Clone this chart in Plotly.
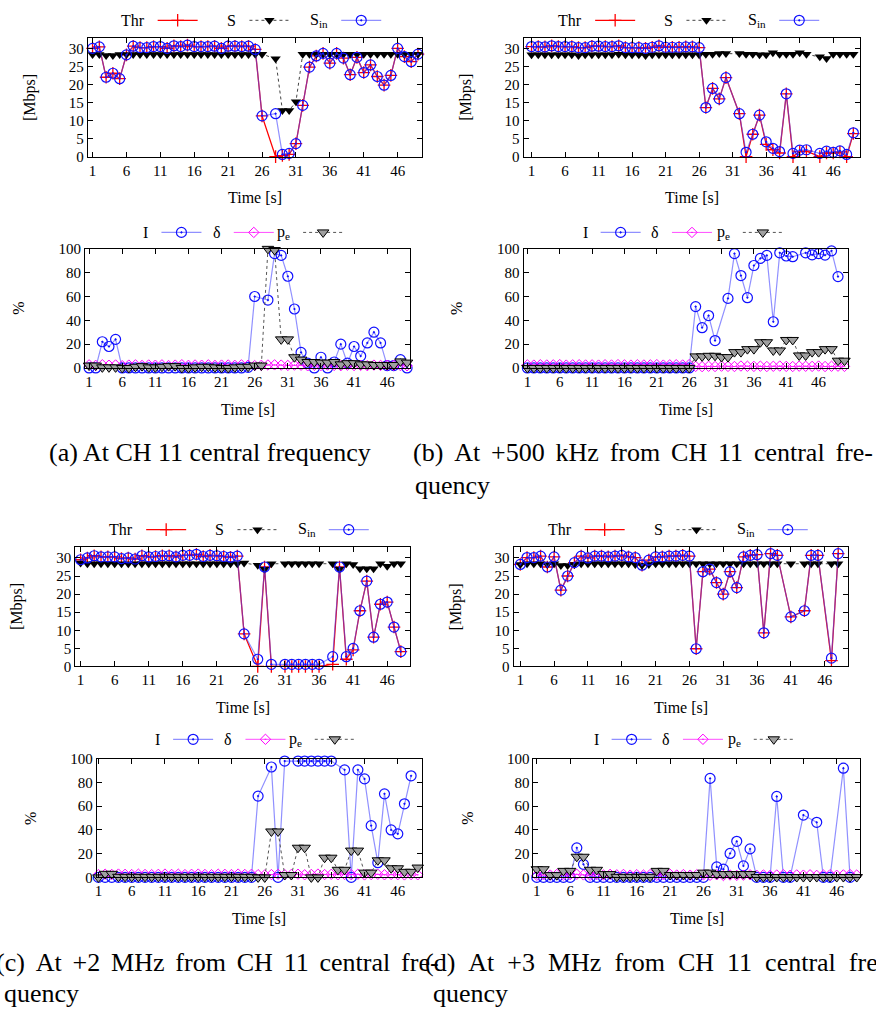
import plotly.graph_objects as go

W, H = 876, 1017
FONT = "Liberation Serif"

T = list(range(1, 51))
X_TICKS = [1, 6, 11, 16, 21, 26, 31, 36, 41, 46]
Y_TICKS_THR = [0, 5, 10, 15, 20, 25, 30]
Y_TICKS_PCT = [0, 20, 40, 60, 80, 100]

# ---------------- (a) CH 11 central frequency ----------------
a_thr = [30.0, 30.4, 22.0, 23.1, 21.6, 28.2, 30.6, 30.2, 30.2, 30.5,
         30.5, 30.0, 30.7, 30.5, 30.9, 30.5, 30.5, 30.5, 30.6, 30.0,
         30.6, 30.6, 30.5, 30.6, 29.7, 11.3, None, 0.0, 0.3, 0.6,
         3.6, 14.2, 24.8, 27.9, 28.6, 25.9, 28.6, 27.3, 22.7, 27.5,
         23.3, 25.4, 22.2, 19.8, 22.5, 30.0, 27.7, 26.3, 28.4, None]
a_sin = [30.0, 30.4, 22.0, 23.1, 21.6, 28.2, 30.6, 30.2, 30.2, 30.5,
         30.5, 30.0, 30.7, 30.5, 30.9, 30.5, 30.5, 30.5, 30.6, 30.0,
         30.6, 30.6, 30.5, 30.6, 29.7, 11.3, None, 11.9, 0.6, 0.9,
         3.6, 14.2, 24.8, 27.9, 28.6, 25.9, 28.6, 27.3, 22.7, 27.5,
         23.3, 25.4, 22.2, 19.8, 22.5, 30.0, 27.7, 26.3, 28.4, None]
a_s = [28.3, 28.3, 28.0, 28.0, 28.3, 28.3, 28.3, 28.3, 28.3, 28.3,
       28.3, 28.3, 28.3, 28.3, 28.3, 28.3, 28.3, 28.3, 28.3, 28.3,
       28.3, 28.3, 28.3, 28.3, 28.4, 28.4, None, 27.1, 12.8, 12.8,
       15.2, 28.4, 28.4, 28.4, 28.4, 28.4, 28.4, 28.4, 28.4, 28.4,
       28.4, 28.4, 28.4, 28.4, 28.4, 28.4, 28.4, 28.4, 28.4, None]
a_i = [0, 0, 22, 18, 24, 0, 0, 0, 0, 0,
       0, 0, 0, 0, 0, 0, 0, 0, 0, 0,
       0, 0, 0, 0, 0.5, 60, None, 57, 96, 94.5,
       77, 49.5, 13, 4, 0, 9, 0, 5, 20, 4,
       18, 10, 21, 30, 21, 2, 2, 7, 0, None]
a_d = [2.6, 2.2, 2.7, 2.3, 2.5, 1.9, 2.4, 2.6, 2.1, 2.5,
       2.3, 2.6, 2.0, 2.4, 2.7, 2.2, 2.5, 2.3, 2.6, 2.1,
       2.4, 2.5, 2.2, 2.6, 2.3, 2.0, 2.2, 2.5, 2.6, 2.4,
       2.1, 2.4, 2.3, 1.8, 2.2, 2.0, 2.4, 2.1, 1.9, 2.3,
       2.0, 2.2, 1.9, 2.4, 2.1, 2.3, 2.2, 2.0, 1.8, None]
a_pe = [2, 2, 0.5, 0.5, 0.5, 0, 0, 1, 1.5, 0.5,
        0.5, 1, 1.5, 1.5, 0, 0, 0.5, 1, 1, 0.5,
        0, 0, 0.5, 1, 1, 2, 2, 100, 99, 24,
        24, 9, 7, 5, 5, 4.5, 4.5, 5, 3, 4,
        4, 3, 3, 2.5, 2.5, 2.5, 2.5, 5.5, 4.5, None]

# ---------------- (b) +500 kHz ----------------
b_thr = [30.5, 30.5, 30.4, 30.7, 30.5, 30.5, 30.5, 30.2, 30.2, 30.6,
         30.6, 30.5, 30.5, 30.7, 30.2, 30.2, 30.2, 30.0, 30.3, 30.7,
         30.3, 30.3, 30.3, 30.4, 30.4, 30.2, 13.6, 18.9, 16.0, 21.9,
         None, 11.9, 0.0, 6.2, 11.5, 3.4, 1.9, 1.0, 17.4, 0.0,
         1.4, 1.5, None, 0.0, 1.0, 1.0, 1.3, 0.0, 6.4, None]
b_sin = [30.5, 30.5, 30.4, 30.7, 30.5, 30.5, 30.5, 30.2, 30.2, 30.6,
         30.6, 30.5, 30.5, 30.7, 30.2, 30.2, 30.2, 30.0, 30.3, 30.7,
         30.3, 30.3, 30.3, 30.4, 30.4, 30.2, 13.6, 18.9, 16.0, 21.9,
         None, 11.9, 1.2, 6.2, 11.5, 4.1, 2.3, 1.4, 17.4, 0.9,
         1.8, 1.9, None, 0.9, 1.5, 1.2, 1.6, 0.6, 6.6, None]
b_s = [28.2, 28.2, 28.2, 28.2, 28.2, 28.2, 28.2, 28.0, 28.2, 28.2,
       28.2, 28.2, 28.2, 28.4, 28.2, 28.2, 28.2, 28.0, 28.2, 28.2,
       28.2, 28.2, 28.2, 28.2, 28.2, 28.2, 28.4, 28.4, 28.6, 28.6,
       None, 28.6, 28.4, 28.4, 28.2, 28.2, 28.8, 28.4, 28.4, 28.4,
       28.8, 28.4, None, 27.7, 27.2, 28.4, 28.4, 28.4, 28.4, None]
b_i = [0, 0, 0, 0, 0, 0, 0, 0, 0, 0,
       0, 0, 0, 0, 0, 0, 0, 0, 0, 0,
       0, 0, 0, 0, 0, 0, 51.5, 33.8, 44, 23,
       None, 58.4, 96, 77.6, 59, 86, 92, 94.5, 38.8, 96.7,
       94, 93.4, None, 96.7, 95, 96, 94.7, 98.3, 76.7, None]
b_d = [2.6, 2.4, 2.7, 2.5, 2.6, 2.8, 2.4, 2.6, 2.7, 2.5,
       2.6, 2.4, 2.7, 2.5, 2.8, 2.6, 2.4, 2.7, 2.5, 2.6,
       2.8, 2.4, 2.6, 2.7, 2.5, 2.8, 1.3, 1.1, 1.4, 1.2,
       1.5, 1.3, 1.2, 1.6, 1.4, 1.3, 1.5, 1.2, 1.4, 1.6,
       1.3, 1.2, 1.5, 1.4, 1.3, 1.6, 1.2, 1.4, 1.5, 1.3]
b_pe = [0, 0, 0, 0, 0, 0, 0, 0, 0, 0,
        0, 0, 0, 0, 0, 0, 0, 0, 0, 0,
        0, 0, 0, 0, 0, 0, 9.7, 9.7, 10.2, 10.2,
        9.1, 9.1, 13.3, 13.3, 15.8, 15.8, 21.6, 21.6, 14.7, 14.7,
        23.5, 23.5, 10.5, 10.5, 13.3, 13.3, 15.8, 15.8, 6.1, 6.1]

# ---------------- (c) +2 MHz ----------------
c_thr = [29.5, 30.0, 30.6, 30.3, 30.3, 30.3, 29.8, 30.0, 29.7, 30.6,
         30.3, 30.4, 30.6, 30.6, 30.3, 30.7, 30.7, 31.0, 30.4, 30.7,
         30.6, 30.4, 30.2, 30.5, 9.0, None, 0.0, 27.5, 0.0, None,
         0.0, 0.0, 0.0, 0.0, 0.0, 0.0, None, 0.6, 27.5, 2.0,
         4.6, 15.4, 23.6, 8.1, 17.2, 17.8, 10.9, 4.1, None, None]
c_sin = [29.5, 30.0, 30.6, 30.3, 30.3, 30.3, 29.8, 30.0, 29.7, 30.6,
         30.3, 30.4, 30.6, 30.6, 30.3, 30.7, 30.7, 31.0, 30.4, 30.7,
         30.6, 30.4, 30.2, 30.5, 9.0, None, 2.0, 27.5, 0.6, None,
         0.6, 0.6, 0.6, 0.6, 0.6, 0.6, None, 2.7, 27.5, 2.7,
         5.0, 15.4, 23.6, 8.1, 17.2, 17.8, 10.9, 4.1, None, None]
c_s = [28.6, 28.4, 28.4, 28.4, 28.4, 28.4, 28.4, 28.4, 28.4, 28.4,
       28.4, 28.4, 28.4, 28.4, 28.4, 28.4, 28.4, 28.4, 28.4, 28.4,
       28.4, 28.4, 28.4, 28.4, 28.6, None, 28.0, 26.9, 28.4, None,
       28.4, 28.4, 28.4, 28.4, 28.4, 28.4, None, 28.4, 26.9, 28.4,
       28.2, 27.0, 27.0, 27.0, 28.4, 27.7, 28.4, 28.4, None, None]
c_i = [0, 0, 0, 0, 0, 0, 0, 0, 0, 0,
       0, 0, 0, 0, 0, 0, 0, 0, 0, 0,
       0, 0, 0, 0, 68.5, None, 93, 0, 98, None,
       98, 98, 98, 98, 98, 98, None, 90.6, 0, 90.6,
       83, 43.6, 12.4, 70.4, 40, 36.7, 62, 85.6, None, None]
c_d = [2.4, 2.7, 2.5, 2.8, 2.6, 2.4, 2.7, 2.5, 2.3, 2.6,
       2.8, 2.5, 2.7, 2.4, 2.6, 2.8, 2.5, 2.3, 2.7, 2.6,
       2.4, 2.8, 2.5, 2.6, 2.3, 2.1, 2.4, 2.6, 2.3, 2.5,
       2.7, 2.2, 2.5, 2.8, 2.4, 2.6, 2.2, 2.5, 2.3, 2.7,
       2.1, 2.4, 2.6, 2.2, 2.5, 2.3, 2.1, 2.4, 2.2, None]
c_pe = [0, 3, 3, 0.5, 0.5, 0.5, 0.5, 0.5, 0.5, 0.5,
        0.5, 0.5, 0.5, 0.5, 0.5, 0.5, 0.5, 0.5, 0.5, 0.5,
        0.5, 0.5, 0.5, 0.5, 0, 0, 38.7, 38.7, 2, 2,
        25, 25, 0, 0, 16.6, 16.6, 6.4, 6.4, 22.6, 22.6,
        4, 4, 14.4, 14.4, 7.7, 7.7, 4.7, 4.7, 8.3, None]

# ---------------- (d) +3 MHz ----------------
d_thr = [28.2, 30.1, 30.1, 30.5, 27.5, 30.3, 21.1, 25.0, 28.7, 30.5,
         30.0, 30.5, 30.5, 30.3, 30.5, 30.7, 30.3, 30.1, 28.0, 29.4,
         30.3, 30.3, 30.5, 30.5, 30.7, 30.5, 4.9, 26.2, 26.9, 23.2,
         20.0, 26.2, 21.8, 30.3, 30.7, 30.9, 9.3, 31.2, 30.7, None,
         13.7, None, 15.4, 30.7, 30.7, None, 1.6, 31.2, None, None]
d_sin = [28.2, 30.1, 30.1, 30.5, 27.5, 30.3, 21.1, 25.0, 28.7, 30.5,
         30.0, 30.5, 30.5, 30.3, 30.5, 30.7, 30.3, 30.1, 28.0, 29.4,
         30.3, 30.3, 30.5, 30.5, 30.7, 30.5, 4.9, 26.2, 26.9, 23.2,
         20.0, 26.2, 21.8, 30.3, 30.7, 30.9, 9.3, 31.2, 30.7, None,
         13.7, None, 15.4, 30.7, 30.7, None, 2.3, 31.2, None, None]
d_s = [28.2, 28.4, 28.4, 28.4, 28.2, 28.4, 27.9, 27.9, 28.2, 28.4,
       28.4, 28.4, 28.4, 28.4, 28.4, 28.4, 28.4, 28.2, 28.0, 28.2,
       28.4, 28.4, 28.4, 28.4, 28.4, 28.4, 28.4, 28.4, 28.4, 28.4,
       28.4, 28.4, 28.4, 28.4, 28.4, 28.4, 28.4, 28.4, 28.4, None,
       28.4, None, 28.4, 28.4, 28.4, None, 28.4, 28.4, None, None]
d_i = [0, 0, 0, 0, 0, 0, 24.9, 11.0, 0, 0,
       0, 0, 0, 0, 0, 0, 0, 0, 0, 0,
       0, 0, 0, 0, 0, 0, 83.4, 8.8, 6.9, 20.2,
       30.4, 9.7, 24.0, 0, 0, 0, 68.2, 0, 0, None,
       52.5, None, 46.4, 0, 0, None, 92.0, 0, None, None]
d_d = [1.8, 2.2, 2.0, 2.5, 1.9, 2.3, 2.6, 2.1, 1.8, 2.4,
       2.0, 2.6, 2.2, 2.5, 1.9, 2.3, 2.0, 2.4, 1.8, 2.2,
       2.6, 2.0, 2.4, 1.9, 2.3, 2.1, 1.8, 2.2, 1.6, 2.0,
       1.7, 1.9, 2.2, 1.8, 2.1, 1.7, 2.0, 2.3, 1.8, 2.1,
       1.9, 2.2, 1.7, 2.0, 2.3, 1.8, 2.1, 2.4, 2.0, None]
d_pe = [6.9, 6.9, 1.9, 1.9, 5.5, 5.5, 17.4, 17.4, 6.4, 6.4,
        2.8, 2.8, 0.5, 0.5, 0.5, 0.5, 0.5, 0.5, 5.5, 5.5,
        2.0, 2.0, 2.0, 2.0, 2.0, 4.0, 4.0, 2.8, 2.8, 2.8,
        2.8, 2.8, 2.8, 0.3, 0.3, 0.3, 0.3, 0.3, 0.3, 0.3,
        0.3, 0.3, 0.3, 0.3, 0.3, 0.3, 0.3, 0.3, 0.3, None]

NB = "\u00a0"
HS = "\u200a"
# caption words, gap string between words, left x (px), centre y (px)
CAPTIONS = [
    (["(a)", "At", "CH", "11", "central", "frequency"], " ", 45, 452),
    (["(b)", "At", "+500", "kHz", "from", "CH", "11", "central", "fre-"], NB + HS + HS, 410, 452),
    (["quency"], " ", 412, 485),
    (["(c)", "At", "+2", "MHz", "from", "CH", "11", "central", "fre-"], NB + HS + HS, -8, 970),
    (["quency"], " ", 0, 1001),
    (["(d)", "At", "+3", "MHz", "from", "CH", "11", "central", "fre-"], NB + NB, 422, 970),
    (["quency"], " ", 430, 1001),
]

# ---------------- styles ----------------
ST_THR = dict(line=dict(color="#ff0000", width=1.3),
              marker=dict(symbol="cross-thin", size=9, color="#ff0000",
                          line=dict(color="#ff0000", width=1.3)))
ST_S = dict(line=dict(color="#444444", width=1, dash="dot"),
            marker=dict(symbol="triangle-down", size=9, color="black", line=dict(width=0)))
ST_SIN = dict(line=dict(color="rgba(70,70,255,0.6)", width=1.2),
              marker=dict(symbol="circle-open-dot", size=10, color="#1010ff",
                          line=dict(width=1.2, color="#1010ff")))
ST_D = dict(line=dict(color="rgba(255,0,255,0.7)", width=1),
            marker=dict(symbol="diamond-open-dot", size=8, color="#ff00ff",
                        line=dict(width=1, color="#ff00ff")))
ST_PE = dict(line=dict(color="#555555", width=1, dash="dot"),
             marker=dict(symbol="triangle-down", size=10, color="#a0a0a0",
                         line=dict(color="black", width=1)))

PANELS = [
    dict(kind="thr", frame=(86, 421, 30, 151), xr=[0.3, 49.6],
         series=[a_thr, a_s, a_sin], leg=(176, 268, 360), legy=12.5),
    dict(kind="thr", frame=(522.7, 860, 30, 151), xr=[-0.2, 50.0],
         series=[b_thr, b_s, b_sin], leg=(614.5, 706, 799), legy=12.5),
    dict(kind="pct", frame=(83.3, 409.3, 244.7, 365.7), xr=[0.4, 49.5],
         series=[a_i, a_d, a_pe], leg=(179.8, 252.3, 321.8), legy=228),
    dict(kind="pct", frame=(522.7, 848.3, 244.7, 365.7), xr=[0.4, 50.6],
         series=[b_i, b_d, b_pe], leg=(620, 691.5, 762.5), legy=228),
    dict(kind="thr", frame=(73.3, 409.3, 547.7, 669), xr=[0.2, 49.4],
         series=[c_thr, c_s, c_sin], leg=(164.5, 256, 347.5), legy=530),
    dict(kind="thr", frame=(512.7, 848.3, 547.7, 669), xr=[0.0, 49.5],
         series=[d_thr, d_s, d_sin], leg=(604, 696, 787.5), legy=530),
    dict(kind="pct", frame=(95, 420.7, 762.7, 883.3), xr=[0.75, 49.6],
         series=[c_i, c_d, c_pe], leg=(191.5, 264, 333.5), legy=743),
    dict(kind="pct", frame=(532.7, 860, 762.7, 883.3), xr=[0.5, 49.5],
         series=[d_i, d_d, d_pe], leg=(631, 702.5, 773.5), legy=743),
]


def fx(p):
    return p / W


def fy(p):
    return 1 - p / H


fig = go.Figure()
layout = dict(width=W, height=H, margin=dict(l=0, r=0, t=0, b=0),
              paper_bgcolor="white", plot_bgcolor="white", showlegend=True,
              font=dict(family=FONT, size=15, color="black"))
annotations = []
n_leg = [0]


def ann(text, x, y, size=16, xanchor="center", yanchor="middle", angle=0):
    annotations.append(dict(text=text, x=fx(x), y=fy(y), xref="paper", yref="paper",
                            xanchor=xanchor, yanchor=yanchor, showarrow=False,
                            textangle=angle,
                            font=dict(family=FONT, size=size, color="black")))


def add_series(values, style, sfx, cx, cy, label):
    n_leg[0] += 1
    key = "legend" if n_leg[0] == 1 else "legend%d" % n_leg[0]
    fig.add_trace(go.Scatter(x=T, y=values, mode="lines+markers", name=" ",
                             xaxis="x" + sfx, yaxis="y" + sfx, connectgaps=True,
                             cliponaxis=False, hoverinfo="skip",
                             legend=key, showlegend=True, **style))
    layout[key] = dict(x=fx(cx - 25), y=fy(cy), xanchor="left", yanchor="middle",
                       bgcolor="rgba(0,0,0,0)", borderwidth=0, itemwidth=40,
                       orientation="h", font=dict(family=FONT, size=10))
    ann(label, cx - 31, cy, xanchor="right")


for k, p in enumerate(PANELS):
    sfx = "" if k == 0 else str(k + 1)
    l, r, t, b = p["frame"]
    thr = p["kind"] == "thr"
    common = dict(ticks="inside", ticklen=5, tickwidth=1, tickcolor="black",
                  mirror="allticks", showline=True, linecolor="black", linewidth=1,
                  showgrid=False, zeroline=False, fixedrange=True,
                  tickfont=dict(family=FONT, size=15, color="black"))
    layout["xaxis" + sfx] = dict(domain=[fx(l), fx(r)], range=p["xr"], anchor="y" + sfx,
                                 tickmode="array", tickvals=X_TICKS,
                                 ticktext=[str(v) for v in X_TICKS],
                                 ticklabelstandoff=0, **common)
    yt = Y_TICKS_THR if thr else Y_TICKS_PCT
    layout["yaxis" + sfx] = dict(domain=[fy(b), fy(t)], range=[0, 33] if thr else [0, 100],
                                 anchor="x" + sfx, tickmode="array", tickvals=yt,
                                 ticktext=[str(v) for v in yt], **common)
    if thr:
        styles = [ST_THR, ST_S, ST_SIN]
        labels = ["Thr", "S", "S<sub>in</sub>"]
        ann("[Mbps]", l - 58, (t + b) / 2, angle=-90)
    else:
        styles = [ST_SIN, ST_D, ST_PE]
        labels = ["I", "δ", "p<sub>e</sub>"]
        ann("%", l - 67, (t + b) / 2, angle=-90)
    ann("Time [s]", (l + r) / 2, b + 42)
    for vals, st, cx, lab in zip(p["series"], styles, p["leg"], labels):
        add_series(vals, st, sfx, cx, p["legy"], lab)

for words, gap, x0, y0 in CAPTIONS:
    ann(gap.join(words), x0, y0, size=26, xanchor="left")

layout["annotations"] = annotations
fig.update_layout(**layout)
fig.write_html("out.html", config={"displayModeBar": False},
               post_script="document.body.style.margin='0';")
